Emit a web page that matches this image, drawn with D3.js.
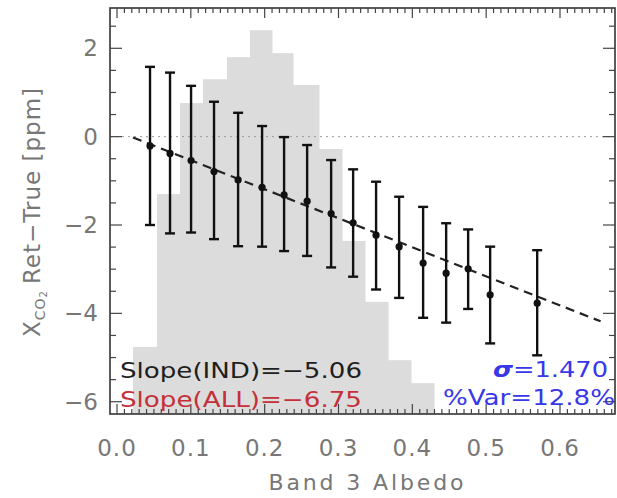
<!DOCTYPE html>
<html>
<head>
<meta charset="utf-8">
<script src="https://cdn.jsdelivr.net/npm/d3@7"></script>
<style>
  body { margin: 0; background: #fff; }
  svg { display: block; font-family: "DejaVu Sans", sans-serif; }
</style>
</head>
<body>
<div id="chart"></div>
<script>
// albedo bin centres and retrieval error statistics
const albedo = [0.0447, 0.0718, 0.1003, 0.1314, 0.1640, 0.1965, 0.2263, 0.2575, 0.2900,
  0.3198, 0.3509, 0.3821, 0.4146, 0.4458, 0.4756, 0.5054, 0.5691];
const meanErr = [-0.21, -0.38, -0.54, -0.79, -0.98, -1.15, -1.32, -1.46, -1.74,
  -1.95, -2.23, -2.49, -2.86, -3.09, -2.99, -3.58, -3.77];
const upperErr = [1.58, 1.45, 1.15, 0.79, 0.54, 0.24, -0.01, -0.19, -0.53,
  -0.74, -1.02, -1.36, -1.59, -1.96, -2.10, -2.49, -2.57];
const lowerErr = [-2.00, -2.19, -2.17, -2.32, -2.48, -2.49, -2.59, -2.70, -2.96,
  -3.17, -3.46, -3.65, -4.10, -4.21, -3.90, -4.68, -4.95];

// scaled albedo histogram (bin edges, top of each bar in y units)
const histEdges = [0.0217, 0.0542, 0.0853, 0.1165, 0.1490, 0.1801, 0.2099, 0.2384,
  0.2736, 0.3048, 0.3359, 0.3671, 0.3982, 0.4294];
const histTop = [-4.76, -1.30, 0.76, 1.30, 1.80, 2.41, 1.89, 1.17, -0.28, -2.36, -3.74, -5.06, -5.58];

// linear fit
const fitX = [0.0217, 0.655];
const fitSlope = -6.57;
const fitIntercept = 0.123;

const xTicks = [0, 0.1, 0.2, 0.3, 0.4, 0.5, 0.6];
const xTickLabels = ['0.0', '0.1', '0.2', '0.3', '0.4', '0.5', '0.6'];
const yTicks = [2, 0, -2, -4, -6];
const yTickLabels = ['2', '0', '\u22122', '\u22124', '\u22126'];

const width = 617;
const height = 498;
const pLeft = 110, pRight = 615, pTop = 8, pBottom = 414;

let x = d3.scaleLinear().domain([-0.0095, 0.6745]).range([pLeft, pRight]);
let y = d3.scaleLinear().domain([-6.278, 2.912]).range([pBottom, pTop]);

let svg = d3.select('#chart')
  .append('svg')
  .attr('width', width)
  .attr('height', height);

let clip = svg.append('defs').append('clipPath').attr('id', 'plot');
clip.append('rect').attr('x', pLeft).attr('y', pTop).attr('width', pRight - pLeft).attr('height', pBottom - pTop);

let plot = svg.append('g').attr('clip-path', 'url(#plot)');

// histogram
plot.selectAll('rect.hist')
  .data(histTop)
  .enter()
  .append('rect')
  .attr('class', 'hist')
  .attr('x', (d, i) => x(histEdges[i]))
  .attr('width', (d, i) => x(histEdges[i + 1]) - x(histEdges[i]) + 0.5)
  .attr('y', d => y(d))
  .attr('height', d => pBottom - y(d))
  .attr('fill', '#dcdcdc');

// zero line
plot.append('line')
  .attr('x1', pLeft).attr('x2', pRight)
  .attr('y1', y(0)).attr('y2', y(0))
  .attr('stroke', '#9a9a9a')
  .attr('stroke-width', 1)
  .attr('stroke-dasharray', '2,4');

// fit line
plot.append('line')
  .attr('x1', x(fitX[0])).attr('x2', x(fitX[1]))
  .attr('y1', y(fitIntercept + fitSlope * fitX[0]))
  .attr('y2', y(fitIntercept + fitSlope * fitX[1]))
  .attr('stroke', '#222')
  .attr('stroke-width', 2.2)
  .attr('stroke-dasharray', '9,6');

// error bars
let bars = plot.selectAll('g.bar')
  .data(albedo)
  .enter()
  .append('g')
  .attr('class', 'bar');

bars.append('line')
  .attr('x1', d => x(d)).attr('x2', d => x(d))
  .attr('y1', (d, i) => y(upperErr[i]))
  .attr('y2', (d, i) => y(lowerErr[i]))
  .attr('stroke', '#111').attr('stroke-width', 2.4);

[upperErr, lowerErr].forEach(function(arr) {
  bars.append('line')
    .attr('x1', d => x(d) - 5).attr('x2', d => x(d) + 5)
    .attr('y1', (d, i) => y(arr[i]))
    .attr('y2', (d, i) => y(arr[i]))
    .attr('stroke', '#111').attr('stroke-width', 2.4);
});

bars.append('circle')
  .attr('cx', d => x(d))
  .attr('cy', (d, i) => y(meanErr[i]))
  .attr('r', 3.6)
  .attr('fill', '#111');

// frame
let axisColor = '#333';
svg.append('rect')
  .attr('x', pLeft).attr('y', pTop)
  .attr('width', pRight - pLeft).attr('height', pBottom - pTop)
  .attr('fill', 'none')
  .attr('stroke', axisColor)
  .attr('stroke-width', 1.6);

// ticks on all four sides
let xMinor = d3.range(0, 0.675, 0.01);
let yMinor = d3.range(-6, 2.91, 0.5);
let ticks = svg.append('g').attr('stroke', '#444').attr('stroke-width', 1.2);

xMinor.forEach(function(v) {
  let major = Math.abs(v * 10 - Math.round(v * 10)) < 1e-6;
  let len = major ? 10 : 5;
  ticks.append('line').attr('x1', x(v)).attr('x2', x(v)).attr('y1', pBottom).attr('y2', pBottom - len);
  ticks.append('line').attr('x1', x(v)).attr('x2', x(v)).attr('y1', pTop).attr('y2', pTop + len);
});
yMinor.forEach(function(v) {
  let major = Math.abs(v / 2 - Math.round(v / 2)) < 1e-6;
  let len = major ? 12 : 6;
  ticks.append('line').attr('y1', y(v)).attr('y2', y(v)).attr('x1', pLeft).attr('x2', pLeft + len);
  ticks.append('line').attr('y1', y(v)).attr('y2', y(v)).attr('x1', pRight).attr('x2', pRight - len);
});

// tick labels
let labelColor = '#777';
svg.selectAll('text.xt')
  .data(xTicks)
  .enter()
  .append('text')
  .attr('class', 'xt')
  .attr('x', d => x(d))
  .attr('y', 456)
  .attr('text-anchor', 'middle')
  .attr('font-size', 23)
  .attr('letter-spacing', 1)
  .attr('fill', labelColor)
  .text((d, i) => xTickLabels[i]);

svg.selectAll('text.yt')
  .data(yTicks)
  .enter()
  .append('text')
  .attr('class', 'yt')
  .attr('x', 98)
  .attr('y', d => y(d) + 8)
  .attr('text-anchor', 'end')
  .attr('font-size', 23)
  .attr('fill', labelColor)
  .text((d, i) => yTickLabels[i]);

// axis titles
svg.append('text')
  .attr('x', 366)
  .attr('y', 490)
  .attr('text-anchor', 'middle')
  .attr('font-size', 22)
  .attr('textLength', 195)
  .attr('fill', labelColor)
  .text('Band 3 Albedo');

let yTitle = svg.append('text')
  .attr('transform', 'translate(40,' + 212 + ') rotate(-90)')
  .attr('text-anchor', 'middle')
  .attr('font-size', 23)
  .attr('letter-spacing', 1)
  .attr('fill', labelColor);
yTitle.append('tspan').text('X');
yTitle.append('tspan').attr('font-size', 14).attr('dy', 5).text('CO');
yTitle.append('tspan').attr('font-size', 10).attr('dy', 2).text('2');
yTitle.append('tspan').attr('dy', -7).attr('dx', 6).text('Ret\u2212True  [ppm]');

// annotations
svg.append('text')
  .attr('x', 120).attr('y', 378)
  .attr('font-size', 22)
  .attr('fill', '#1e1e1e')
  .attr('textLength', 242)
  .attr('lengthAdjust', 'spacingAndGlyphs')
  .text('Slope(IND)=\u22125.06');

svg.append('text')
  .attr('x', 120).attr('y', 407)
  .attr('font-size', 22)
  .attr('fill', '#c4303a')
  .attr('textLength', 242)
  .attr('lengthAdjust', 'spacingAndGlyphs')
  .text('Slope(ALL)=\u22126.75');

let sig = svg.append('text')
  .attr('x', 493).attr('y', 377)
  .attr('font-size', 22)
  .attr('fill', '#3838e8')
  .attr('textLength', 115)
  .attr('lengthAdjust', 'spacingAndGlyphs');
sig.append('tspan').attr('font-style', 'italic').attr('font-weight', 'bold').text('\u03c3');
sig.append('tspan').text('=1.470');

svg.append('text')
  .attr('x', 443).attr('y', 405)
  .attr('font-size', 22)
  .attr('fill', '#3838e8')
  .attr('textLength', 172)
  .attr('lengthAdjust', 'spacingAndGlyphs')
  .text('%Var=12.8%');
</script>
</body>
</html>
